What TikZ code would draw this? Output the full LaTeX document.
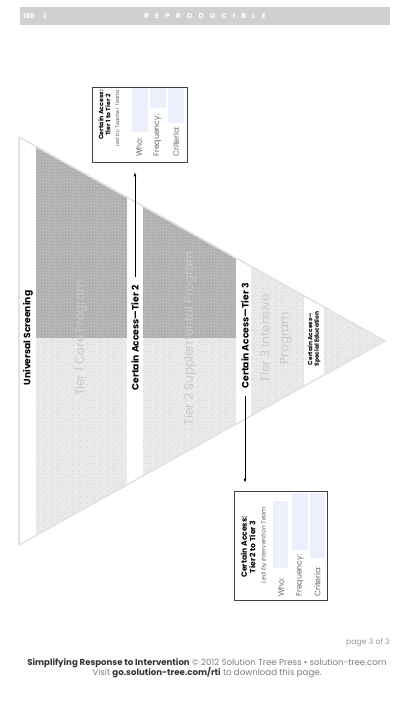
\documentclass[tikz,border=0pt]{standalone}
\usepackage{fontspec}
\setmainfont{Poppins}
\usetikzlibrary{arrows.meta,positioning,patterns.meta}
\definecolor{barGray}{RGB}{208,208,208}
\definecolor{edgeGray}{RGB}{226,226,226}
\definecolor{darkShade}{RGB}{172,172,172}
\definecolor{darkCheck}{RGB}{194,194,194}
\definecolor{lightShade}{RGB}{236,236,236}
\definecolor{lightDot}{RGB}{188,188,188}
\definecolor{tierText}{RGB}{201,201,201}
\definecolor{fieldBlue}{RGB}{236,239,252}
\definecolor{footGray}{RGB}{125,125,125}

\tikzdeclarepattern{name=finecheck, type=uncolored,
  bottom left={(0pt,0pt)}, top right={(3pt,3pt)}, tile size={(3pt,3pt)},
  code={\pgfpathrectangle{\pgfpointorigin}{\pgfpoint{1.5pt}{1.5pt}}
        \pgfpathrectangle{\pgfpoint{1.5pt}{1.5pt}}{\pgfpoint{1.5pt}{1.5pt}}
        \pgfusepath{fill}}}
\tikzdeclarepattern{name=stipple, type=uncolored,
  bottom left={(0pt,0pt)}, top right={(7pt,7pt)}, tile size={(7pt,7pt)},
  code={\foreach \px/\py in {0.6/1.1, 2.9/0.4, 5.2/1.8, 1.7/3.3, 4.1/3.9, 6.3/4.6, 0.9/5.7, 3.3/6.2, 5.6/6.6, 2.4/2.1}
          {\pgfpathcircle{\pgfpoint{\px pt}{\py pt}}{0.38pt}}
        \pgfusepath{fill}}}

\begin{document}
\begin{tikzpicture}[x=1pt, y=-1pt, every node/.style={inner sep=0pt}]
\tikzstyle{strip}=[rotate=90, font=\bfseries\fontsize{9.2}{10}\selectfont]
\tikzstyle{tier}=[rotate=90, align=center, text=tierText, font=\fontsize{12}{19}\selectfont]
\tikzstyle{formbox}=[draw=black!75, line width=0.6pt]
\tikzstyle{fsub}=[rotate=90, text=black!65, font=\itshape\fontsize{5}{6}\selectfont]
\tikzstyle{fld}=[fill=fieldBlue]
\tikzstyle{fldlabel}=[rotate=90, anchor=west, text=black!60, font=\fontsize{7.8}{8}\selectfont]
\tikzstyle{arr}=[-{Latex[length=4pt,width=3pt]}, line width=0.6pt]
\useasboundingbox (0,0) rectangle (417,703);

% header
\node[fill=barGray, minimum width=370pt, minimum height=18pt] (bar) at (205,16) {};
\node[anchor=west, text=white, font=\bfseries\fontsize{7}{8}\selectfont] (pgno) at (23,16) {186\hspace{9pt}|};
\node[text=white, font=\bfseries\fontsize{7}{8}\selectfont\addfontfeature{LetterSpace=90}] (repro) at (205,16) {REPRODUCIBLE};

% pyramid, lying on its side
\begin{scope}
\clip (19,137) -- (385,341) -- (19,545) -- cycle;
\fill[darkShade] (36,0) rectangle (127,338);
\fill[pattern={finecheck}, pattern color=darkCheck] (36,0) rectangle (127,338);
\fill[darkShade] (143,0) rectangle (236,338);
\fill[pattern={finecheck}, pattern color=darkCheck] (143,0) rectangle (236,338);
\fill[lightShade] (36,338) rectangle (127,703);
\fill[lightShade] (143,338) rectangle (236,703);
\fill[lightShade] (251,0) rectangle (304,703);
\fill[lightShade] (324,0) rectangle (400,703);
\fill[pattern={stipple}, pattern color=lightDot] (36,338) rectangle (127,703);
\fill[pattern={stipple}, pattern color=lightDot] (143,338) rectangle (236,703);
\fill[pattern={stipple}, pattern color=lightDot] (251,0) rectangle (304,703);
\fill[pattern={stipple}, pattern color=lightDot] (324,0) rectangle (400,703);
\end{scope}
\draw[edgeGray, line width=1.6pt, line join=round] (19,137) -- (385,341) -- (19,545) -- cycle;

% tier labels
\node[strip] (scr) at (28,338) {Universal Screening};
\node[tier] (tier1) at (81,338) {Tier 1 Core Program};
\node[strip] (acc2) at (135,338) {Certain Access—Tier 2};
\node[tier] (tier2) at (190,338) {Tier 2 Supplemental Program};
\node[strip] (acc3) at (245,336) {Certain Access—Tier 3};
\node[tier] (tier3) at (276,338) {Tier 3 Intensive\\Program};
\node[strip, align=center, font=\bfseries\fontsize{6}{6.5}\selectfont] (accSE) at (314,339) {Certain Access—\\Special Education};

% form: tier 1 to tier 2
\node[formbox, minimum width=95pt, minimum height=75pt] (formA) at (139.5,124.5) {};
\node[rotate=90, align=center, font=\bfseries\fontsize{6.2}{7}\selectfont] (ttlA) at (104.5,115) {Certain Access:\\Tier 1 to Tier 2};
\node[fsub] (subA) at (118,118) {Led by Teacher Teams};
\fill[fld] (132,88.5) rectangle (148,132);
\fill[fld] (149.5,88.5) rectangle (166,108);
\fill[fld] (168,88.5) rectangle (184,123);
\node[fldlabel] (whoA) at (139,157) {Who:};
\node[fldlabel] (freqA) at (157.5,157) {Frequency:};
\node[fldlabel] (critA) at (176,157) {Criteria:};

% form: tier 2 to tier 3
\node[formbox, minimum width=93pt, minimum height=109pt] (formB) at (280.5,545.5) {};
\node[rotate=90, align=center, font=\bfseries\fontsize{7.6}{8.5}\selectfont] (ttlB) at (248,547) {Certain Access:\\Tier 2 to Tier 3};
\node[fsub, font=\itshape\fontsize{6}{7}\selectfont] (subB) at (264,545) {Led by Intervention Team};
\fill[fld] (273,501) rectangle (288,568);
\fill[fld] (292,492.5) rectangle (308,550);
\fill[fld] (310,492.5) rectangle (325,558);
\node[fldlabel] (whoB) at (281,597) {Who:};
\node[fldlabel] (freqB) at (300,597) {Frequency:};
\node[fldlabel] (critB) at (317.5,597) {Criteria:};

\draw[arr, shorten <=8pt, shorten >=10pt] (acc2.east) -- (acc2.east |- formA.south);
\draw[arr, shorten <=7pt, shorten >=8pt] (acc3.west) -- (acc3.west |- formB.north);

% footer
\node[anchor=east, text=footGray!80, font=\fontsize{7.8}{8}\selectfont] (pg) at (390,643) {page 3 of 3};
\node[text=footGray, font=\fontsize{8.6}{9}\selectfont] (foot1) at (207,663) {\textcolor{black!80}{\bfseries Simplifying Response to Intervention} © 2012 Solution Tree Press • solution-tree.com};
\node[text=footGray, font=\fontsize{8.6}{9}\selectfont] (foot2) at (207,673) {Visit \textcolor{black!80}{\bfseries go.solution-tree.com/rti} to download this page.};
\end{tikzpicture}
\end{document}
